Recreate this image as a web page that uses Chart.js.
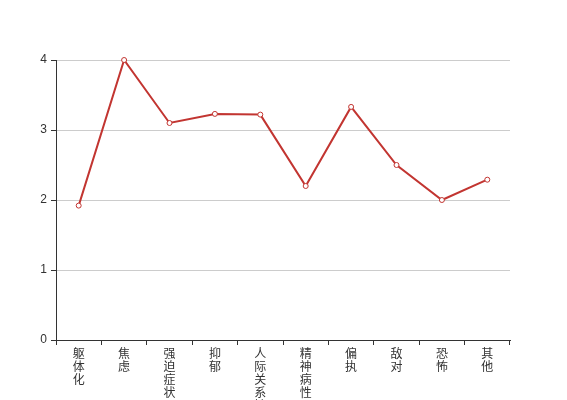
<!DOCTYPE html>
<html>
<head>
<meta charset="utf-8">
<script src="https://cdn.jsdelivr.net/npm/chart.js@4/dist/chart.umd.min.js"></script>
<style>
html,body{margin:0;padding:0;background:#fff;}
#wrap{width:567px;height:400px;}
</style>
</head>
<body>
<div id="wrap"><canvas id="c" width="567" height="400"></canvas></div>
<script>
const categories = ['躯体化','焦虑','强迫症状','抑郁','人际关系敏感','精神病性','偏执','敌对','恐怖','其他'];
const values = [1.92, 4.0, 3.10, 3.23, 3.22, 2.20, 3.33, 2.50, 2.00, 2.29];
const yTicks = [0, 1, 2, 3, 4];

const verticalLabels = categories.map(s => Array.from(s));
const FONT = "'Liberation Sans', Arial, 'Noto Sans CJK SC', sans-serif";

new Chart(document.getElementById('c'), {
  type: 'line',
  data: {
    labels: verticalLabels,
    datasets: [{
      data: values,
      borderColor: '#c23531',
      borderWidth: 2,
      backgroundColor: '#ffffff',
      pointBackgroundColor: '#ffffff',
      pointBorderColor: '#c23531',
      pointBorderWidth: 1,
      pointRadius: 2.5,
      tension: 0,
      fill: false,
      clip: false
    }]
  },
  options: {
    responsive: false,
    devicePixelRatio: 1,
    animation: false,
    layout: { padding: { top: 60, right: 57, left: 0, bottom: 0 } },
    plugins: { legend: { display: false }, tooltip: { enabled: false } },
    scales: {
      x: {
        offset: true,
        afterFit(scale) { scale.height = 60; },
        border: { color: '#333', width: 1 },
        grid: { display: true, drawOnChartArea: false, drawTicks: true, offset: true, tickLength: 5, tickColor: '#333' },
        ticks: {
          autoSkip: false, maxRotation: 0, minRotation: 0, padding: 3,
          color: '#333', font: { family: FONT, size: 12, lineHeight: 1.08 }
        }
      },
      y: {
        min: 0, max: 4,
        afterFit(scale) { scale.width = 56; },
        afterBuildTicks(scale) { scale.ticks = yTicks.map(v => ({ value: v })); },
        border: { color: '#333', width: 1 },
        grid: { color: '#cccccc', tickColor: '#333', tickLength: 5, drawTicks: true },
        ticks: { padding: 4, color: '#333', font: { family: FONT, size: 12 } }
      }
    }
  }
});
</script>
</body>
</html>
